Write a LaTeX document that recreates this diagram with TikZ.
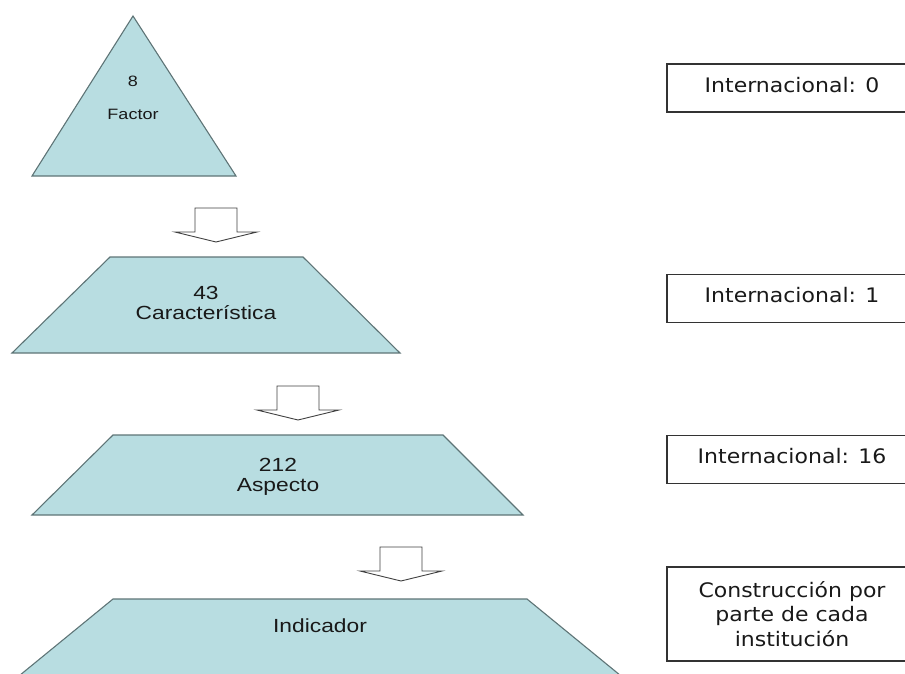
\documentclass[tikz,border=0pt]{standalone}
\usepackage{fontspec}
\setmainfont{Liberation Sans}
\newfontfamily\levelfont[FakeStretch=1.2]{Liberation Sans}
\newfontfamily\infofont[FakeStretch=1.1]{DejaVu Sans}
\usetikzlibrary{positioning}
\definecolor{levelfill}{HTML}{B8DDE1}
\definecolor{leveledge}{HTML}{5E7476}

\begin{document}
\begin{tikzpicture}[x=1pt, y=-1pt,
    level/.style={fill=levelfill, draw=leveledge, line width=1.1pt},
    leveltext/.style={inner sep=0pt, align=center, text=black!90, font=\levelfont\fontsize{19}{19.5}\selectfont},
    toptext/.style={inner sep=0pt, text=black!90, font=\levelfont\fontsize{15}{18}\selectfont},
    infobox/.style={draw=black!80, line width=1.2pt, minimum width=250pt, minimum height=48pt,
        text height=11pt, text depth=3pt, text=black!90, font=\infofont\fontsize{20}{24.5}\selectfont},
    blockarrow/.style={draw=black!75, fill=white, line width=0.9pt}]
    \useasboundingbox (0,0) rectangle (905,673);

    % Pyramid levels
    \draw[level] (133,16) -- (236,176) -- (32,176) -- cycle;
    \draw[level] (12,353) -- (110,257) -- (303,257) -- (400,353) -- cycle;
    \draw[level] (32,515) -- (113,435) -- (443,435) -- (523,515) -- cycle;
    \fill[levelfill] (14,680) -- (113,599) -- (527,599) -- (626,680) -- cycle;
    \draw[level, fill=none] (14,680) -- (113,599) -- (527,599) -- (626,680);

    % Level labels (base = last line)
    \node[toptext, anchor=base] (factornum) at (133,86) {8};
    \node[toptext, anchor=base] (factor) at (133,119) {Factor};
    \node[leveltext, anchor=base] (caract) at (206,319) {43\\Característica};
    \node[leveltext, anchor=base] (aspecto) at (278,491) {212\\Aspecto};
    \node[leveltext, anchor=base] (indicador) at (320,632) {Indicador};

    % Down arrows between levels
    \foreach \ax/\ay in {216/208, 298/386, 401/547}
        \draw[blockarrow] (\ax-21,\ay) -- (\ax+21,\ay) -- (\ax+21,\ay+24) -- (\ax+41,\ay+24)
            -- (\ax,\ay+34) -- (\ax-41,\ay+24) -- (\ax-21,\ay+24) -- cycle;

    % International counts
    \node[infobox] (intl0) at (792,88) {Internacional: 0};
    \node[infobox] (intl1) at (792,298.5) {Internacional: 1};
    \node[infobox] (intl16) at (792,459.5) {Internacional: 16};
    \node[infobox, minimum height=94pt, text height=, text depth=, align=center] (propia) at (792,614) {Construcción por\\parte de cada\\institución};
\end{tikzpicture}
\end{document}
